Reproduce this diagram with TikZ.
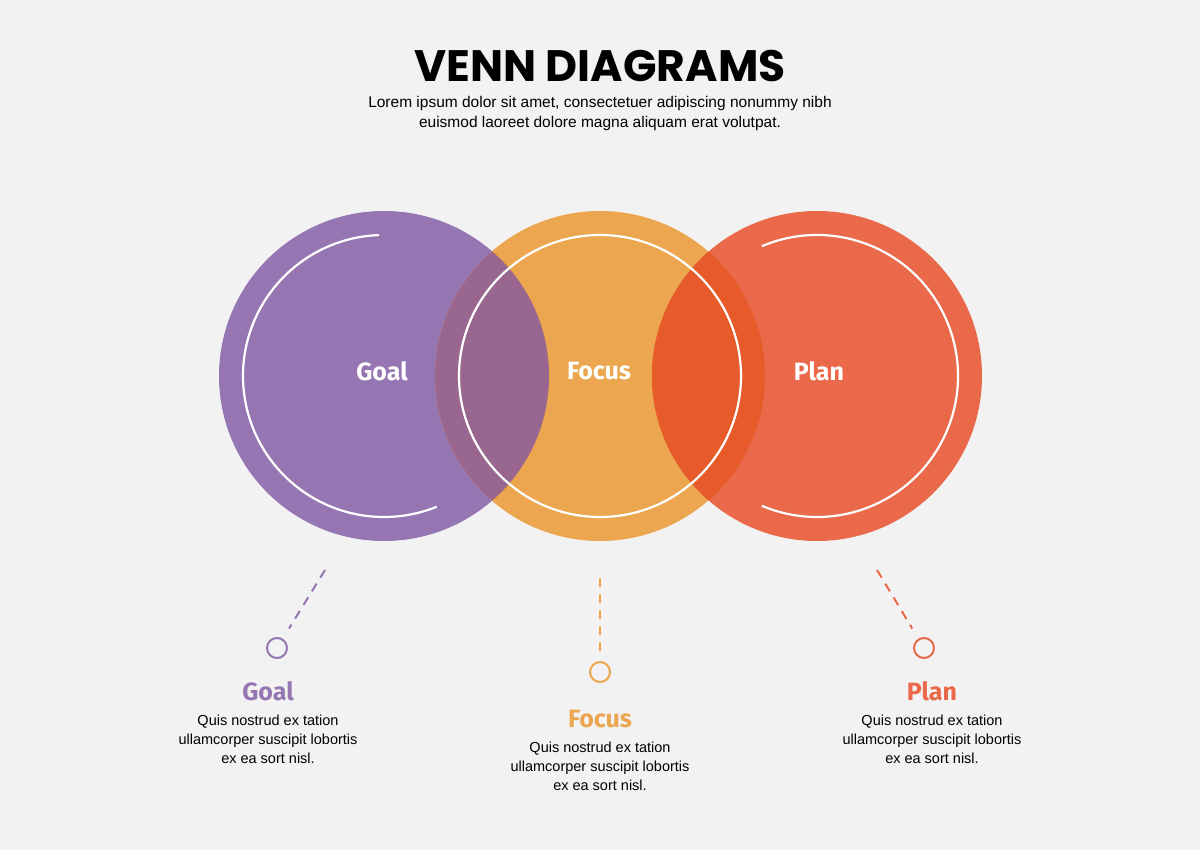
\documentclass[tikz,border=0pt]{standalone}
\usepackage{fontspec}
\usetikzlibrary{calc}
\setmainfont{Liberation Sans}
\newfontfamily\headfont{Poppins}
\newfontfamily\labfont{Fira Sans}
\definecolor{bg}{HTML}{F3F2F2}
\definecolor{cgoal}{HTML}{9676B2}
\definecolor{cfocus}{HTML}{EBA64F}
\definecolor{cplan}{HTML}{E9694A}
\definecolor{cgf}{HTML}{98668F}
\definecolor{cfp}{HTML}{E75A2A}
\tikzset{
  ring/.style={draw=white, line width=2.2pt},
  inlabel/.style={text=white, font=\labfont\bfseries\fontsize{25}{30}\selectfont},
  subtitle/.style={font=\labfont\bfseries\fontsize{25}{30}\selectfont},
  body/.style={align=center, font=\fontsize{14.5}{19}\selectfont},
  lead/.style={line width=2pt, dash pattern=on 9pt off 7pt},
  dot/.style={circle, draw, line width=2pt, minimum size=20pt, inner sep=0pt}
}
\begin{document}
\begin{tikzpicture}[x=1pt,y=-1pt]
  \useasboundingbox[fill=bg] (0,0) rectangle (1200,850);

  % heading %
  \node (title) at (600,66) {\headfont\bfseries\fontsize{44}{50}\selectfont VENN DIAGRAMS};
  \node[body, font=\fontsize{15.5}{20}\selectfont] (sub) at (600,113)
    {Lorem ipsum dolor sit amet, consectetuer adipiscing nonummy nibh\\euismod laoreet dolore magna aliquam erat volutpat.};

  % circles %
  \fill[cgoal] (384,376) circle (165);
  \fill[cfocus] (600,376) circle (165);
  \fill[cplan] (817,376) circle (165);
  \begin{scope}
    \clip (384,376) circle (165);
    \fill[cgf] (600,376) circle (165);
  \end{scope}
  \begin{scope}
    \clip (600,376) circle (165);
    \fill[cfp] (817,376) circle (165);
  \end{scope}

  % white rings %
  \draw[ring] (384,376) ++(-92:141) arc (-92:-292:141);
  \draw[ring] (600,376) circle (141);
  \draw[ring] (817,376) ++(-113:141) arc (-113:113:141);

  \node[inlabel] (g) at (382,371) {Goal};
  \node[inlabel] (f) at (599,371) {Focus};
  \node[inlabel] (p) at (819,371) {Plan};

  % leaders %
  \coordinate (gtop) at (325,570);
  \coordinate (ftop) at (600,578);
  \coordinate (ptop) at (877,570);
  \node[dot, draw=cgoal] (gdot) at (277,648) {};
  \node[dot, draw=cfocus] (fdot) at (600,672) {};
  \node[dot, draw=cplan] (pdot) at (924,648) {};
  \draw[lead, cgoal] (gtop) -- ($(gdot)!0.25!(gtop)$);
  \draw[lead, cfocus] (ftop) -- (600,652);
  \draw[lead, cplan] (ptop) -- ($(pdot)!0.25!(ptop)$);

  % captions %
  \node[subtitle, text=cgoal] (gt) at (268,691) {Goal};
  \node[body, anchor=north] (gb) at (268,711) {Quis nostrud ex tation\\ullamcorper suscipit lobortis\\ex ea sort nisl.};
  \node[subtitle, text=cfocus] (ft) at (600,719) {Focus};
  \node[body, anchor=north] (fb) at (600,738) {Quis nostrud ex tation\\ullamcorper suscipit lobortis\\ex ea sort nisl.};
  \node[subtitle, text=cplan] (pt) at (932,691) {Plan};
  \node[body, anchor=north] (pb) at (932,711) {Quis nostrud ex tation\\ullamcorper suscipit lobortis\\ex ea sort nisl.};
\end{tikzpicture}
\end{document}
